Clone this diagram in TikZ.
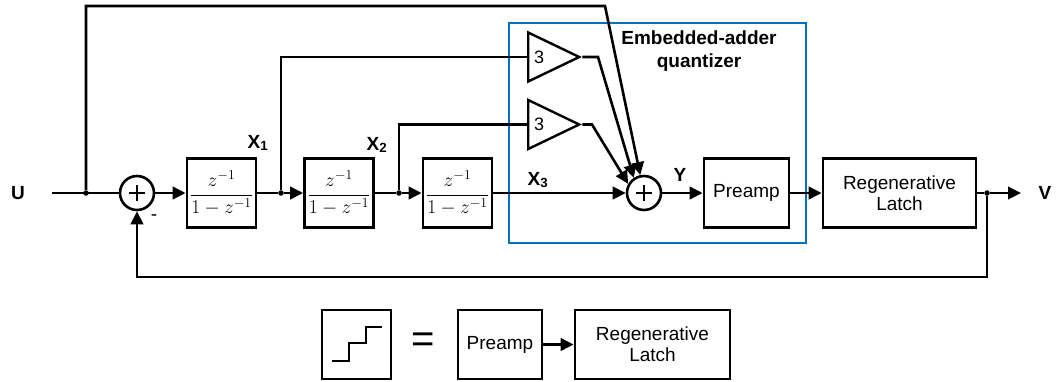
\RequirePackage{fix-cm}
\documentclass[tikz,border=0pt]{standalone}
\usepackage{fontspec}
\setmainfont{Liberation Sans}
\usetikzlibrary{arrows.meta,shapes.geometric}

\tikzset{
  wire/.style={line width=2.6pt},
  arr/.style={wire,-{Triangle[length=13pt,width=12.5pt]}},
  block/.style={draw,line width=2.8pt,minimum height=69pt,inner sep=0pt,
    align=center,font=\fontsize{19}{21}\selectfont},
  tfblock/.style={block,minimum width=69pt,font=\fontsize{19.5}{21}\selectfont},
  sumnode/.style={circle,draw,line width=2.6pt,minimum size=34pt,inner sep=0pt,
    path picture={
      \draw[line width=2.6pt] ([xshift=-8pt]path picture bounding box.center) -- ++(16pt,0);
      \draw[line width=2.6pt] ([yshift=-8pt]path picture bounding box.center) -- ++(0,16pt);
    }},
  amp/.style={isosceles triangle,isosceles triangle stretches,draw,line width=2.4pt,
    minimum width=49pt,minimum height=51pt,inner sep=0pt,anchor=west},
  dotnode/.style={circle,fill,inner sep=0pt,minimum size=5.5pt},
  sig/.style={font=\bfseries\fontsize{19}{21}\selectfont},
  gain/.style={font=\fontsize{18}{20}\selectfont},
}

\begin{document}
\begin{tikzpicture}[x=1pt,y=-1pt]
\useasboundingbox (0,0) rectangle (1060,381);

% embedded-adder quantizer frame
\node[draw={rgb,255:red,0;green,112;blue,192},line width=1.6pt,
  minimum width=297pt,minimum height=220pt,inner sep=0pt] (eaq) at (657.5,133) {};
\node[align=center,font=\bfseries\fontsize{19}{22.5}\selectfont] (eaqlabel) at (699,51)
  {Embedded-adder\\quantizer};

% input and first summer
\node[sig] (U) at (18,193) {U};
\coordinate (uin) at (52,193);
\node[dotnode] (j0) at (86,193) {};
\node[sumnode] (sum1) at (137,193) {};
\node[font=\fontsize{19}{21}\selectfont] (minus) at (154,218) {-};

% integrators
\node[tfblock] (tf1) at (221.5,193) {$\displaystyle\frac{z^{-1}}{1-z^{-1}}$};
\node[dotnode] (j1) at (281,193) {};
\node[tfblock] (tf2) at (339,193) {$\displaystyle\frac{z^{-1}}{1-z^{-1}}$};
\node[dotnode] (j2) at (399,193) {};
\node[tfblock] (tf3) at (457.5,193) {$\displaystyle\frac{z^{-1}}{1-z^{-1}}$};

\node[sig] (X1) at (258,143) {X\textsubscript{1}};
\node[sig] (X2) at (377,145) {X\textsubscript{2}};
\node[sig] (X3) at (538,180) {X\textsubscript{3}};

% feed-forward gains
\node[amp] (amp1) at (527,57) {};
\node[gain] (g1) at (539,57) {3};
\node[amp] (amp2) at (527,124.5) {};
\node[gain] (g2) at (539,124.5) {3};
\coordinate (k1) at (598,57);
\coordinate (k2) at (592,124.5);
\coordinate (topc) at (605,6);

% embedded adder, preamp and latch
\node[sumnode] (sum2) at (644,193) {};
\node[sig] (Y) at (680,175) {Y};
\node[block,minimum width=85pt] (preamp) at (746.5,193) {Preamp};
\node[block,minimum width=153pt] (latch) at (899.5,193) {Regenerative\\Latch};
\node[dotnode] (j4) at (987,193) {};
\coordinate (vout) at (1021,193);
\node[sig] (V) at (1045,193) {V};
\coordinate (fb) at (987,277);

% main path
\draw[wire] (uin) -- (sum1.west);
\draw[arr] (sum1) -- (tf1);
\draw[wire] (tf1) -- (j1);
\draw[arr] (j1) -- (tf2);
\draw[wire] (tf2) -- (j2);
\draw[arr] (j2) -- (tf3);
\draw[arr] (tf3) -- (sum2);
\draw[arr] (sum2) -- (preamp);
\draw[arr] (preamp) -- (latch);
\draw[wire] (latch) -- (j4);
\draw[arr] (j4) -- (vout);

% feedback
\draw[arr] (j4) -- (fb) -| (sum1.south);

% feed-forward paths
\draw[arr] (j0) |- (topc) -- (sum2);
\draw[wire] (j1) |- (amp1.west);
\draw[wire] (j2) |- (amp2.west);
\draw[arr] (amp1.apex) -- (k1) -- (sum2.124);
\draw[arr] (amp2.apex) -- (k2) -- (sum2.150);

% legend: quantizer symbol
\node[block,minimum width=69pt] (qsym) at (356.5,344.5) {};
\draw[line width=2.8pt] (332,361) -- (349,361) -- (349,343) -- (366,343) -- (366,327) -- (382,327);
\node[font=\fontsize{40}{44}\selectfont] (eq) at (423.5,343) {=};
\node[block,minimum width=84pt] (preamp2) at (500,344.5) {Preamp};
\node[block,minimum width=155pt] (latch2) at (652.5,344.5) {Regenerative\\Latch};
\draw[arr] (preamp2) -- (latch2);
\end{tikzpicture}
\end{document}
